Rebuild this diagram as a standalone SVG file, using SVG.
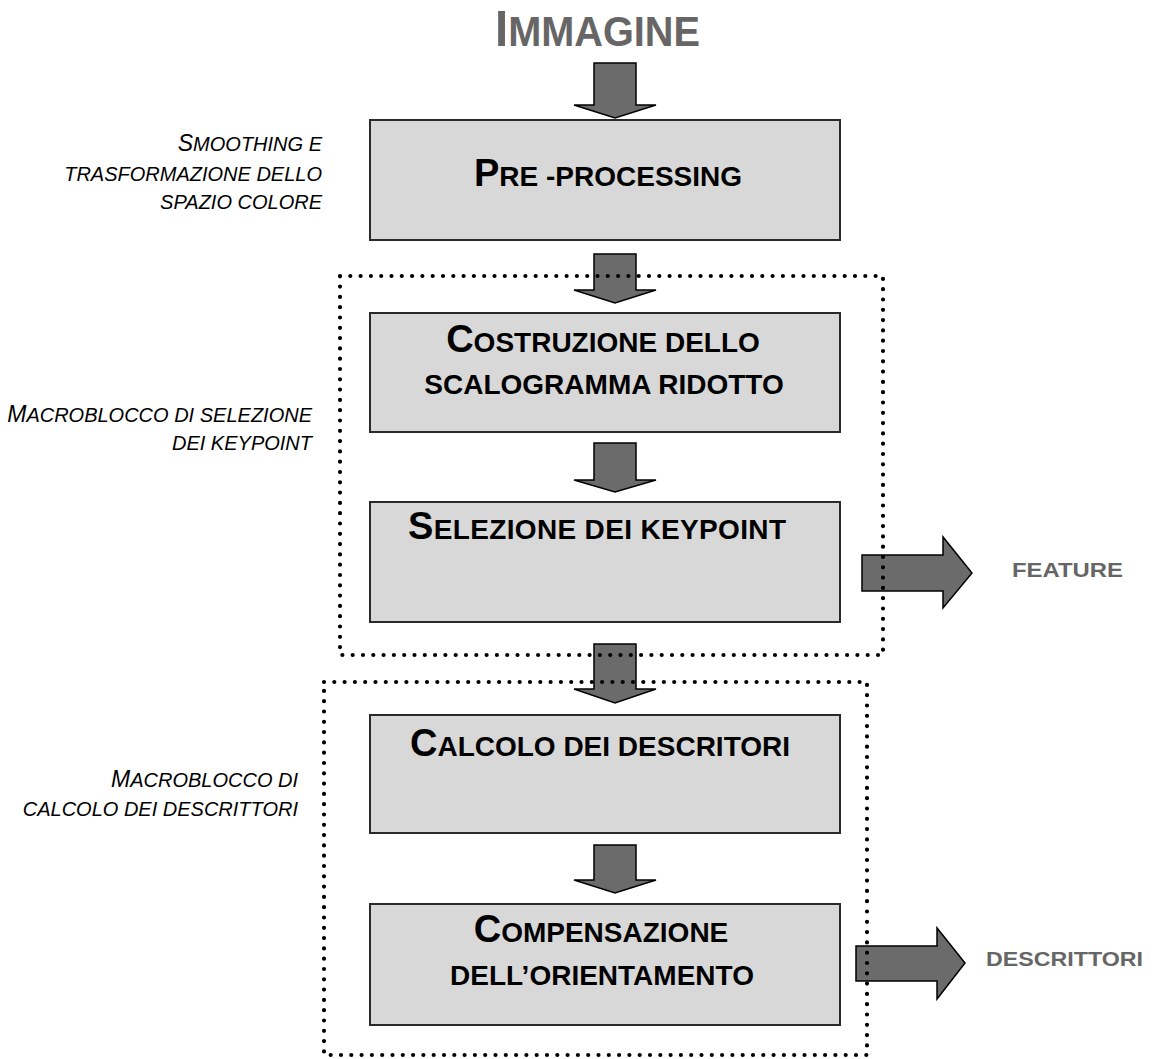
<svg xmlns="http://www.w3.org/2000/svg" width="1155" height="1059" viewBox="0 0 1155 1059">
<style>
.box{fill:#d8d8d8;stroke:#2a2a2a;stroke-width:2}
.arr{fill:#6b6b6b;stroke:#000;stroke-width:1.5;stroke-linejoin:miter}
.dot{fill:none;stroke:#000;stroke-width:4.2;stroke-linecap:round;stroke-dasharray:0 10.3}
.bt{font-family:"Liberation Sans",Arial,sans-serif;font-weight:bold;fill:#000;font-size:28px;text-anchor:middle}
.big{font-size:38px}
.lab{font-family:"Liberation Sans",Arial,sans-serif;font-style:italic;fill:#000;font-size:20px;text-anchor:end}
.lbig{font-size:23px}
.out{font-family:"Liberation Sans",Arial,sans-serif;font-weight:bold;fill:#666;font-size:21px}
</style>
<rect width="1155" height="1059" fill="#fff"/>
<g id="title">
<text class="out" x="495" y="46" textLength="205" lengthAdjust="spacingAndGlyphs"><tspan style="font-size:50px">I</tspan><tspan style="font-size:42px">MMAGINE</tspan></text>
</g>
<g id="connectors">
<path class="arr" d="M594,63 H636 V105 H656 L615,118 L574,105 H594 Z"/>
<path class="arr" d="M594,254 H636 V290 H656 L615,303 L574,290 H594 Z"/>
<path class="arr" d="M594,443 H636 V480 H656 L615,492 L574,480 H594 Z"/>
<path class="arr" d="M594,644 H636 V689 H656 L615,703 L574,689 H594 Z"/>
<path class="arr" d="M594,845 H636 V880 H656 L615,893 L574,880 H594 Z"/>
<path class="arr" d="M862,555 H943 V537 L972,573 L943,608 V591 H862 Z"/>
<path class="arr" d="M856,946 H937 V928 L965,963 L937,999 V981 H856 Z"/>
</g>
<g id="preprocessing">
<rect class="box" x="370" y="120" width="470" height="120"/>
<text class="bt" x="608" y="186"><tspan class="big">P</tspan>RE -PROCESSING</text>
</g>
<g id="costruzione">
<rect class="box" x="370" y="313" width="470" height="119"/>
<text class="bt" x="603" y="352"><tspan class="big">C</tspan>OSTRUZIONE DELLO</text>
<text class="bt" x="604" y="394">SCALOGRAMMA RIDOTTO</text>
</g>
<g id="selezione">
<rect class="box" x="370" y="502" width="470" height="120"/>
<text class="bt" x="597" y="539" textLength="378" lengthAdjust="spacing"><tspan class="big">S</tspan>ELEZIONE DEI KEYPOINT</text>
</g>
<g id="calcolo">
<rect class="box" x="370" y="715" width="470" height="118"/>
<text class="bt" x="600" y="756"><tspan class="big">C</tspan>ALCOLO DEI DESCRITORI</text>
</g>
<g id="compensazione">
<rect class="box" x="370" y="904" width="470" height="121"/>
<text class="bt" x="601" y="942"><tspan class="big">C</tspan>OMPENSAZIONE</text>
<text class="bt" x="602" y="985">DELL’ORIENTAMENTO</text>
</g>
<g id="feature">
<text class="out" x="1012" y="577" textLength="111" lengthAdjust="spacingAndGlyphs">FEATURE</text>
</g>
<g id="descrittori">
<text class="out" x="986" y="966" textLength="157" lengthAdjust="spacingAndGlyphs">DESCRITTORI</text>
</g>
<g id="label-preprocessing">
<text class="lab" x="322" y="151"><tspan class="lbig">S</tspan>MOOTHING E</text>
<text class="lab" x="322" y="181">TRASFORMAZIONE DELLO</text>
<text class="lab" x="322" y="209">SPAZIO COLORE</text>
</g>
<g id="macroblocco-selezione">
<rect class="dot" x="340" y="276" width="543" height="379"/>
<text class="lab" x="312" y="422"><tspan class="lbig">M</tspan>ACROBLOCCO DI SELEZIONE</text>
<text class="lab" x="312" y="450">DEI KEYPOINT</text>
</g>
<g id="macroblocco-calcolo">
<rect class="dot" x="324" y="682" width="543" height="373"/>
<text class="lab" x="298" y="787"><tspan class="lbig">M</tspan>ACROBLOCCO DI</text>
<text class="lab" x="298" y="816">CALCOLO DEI DESCRITTORI</text>
</g>
</svg>
